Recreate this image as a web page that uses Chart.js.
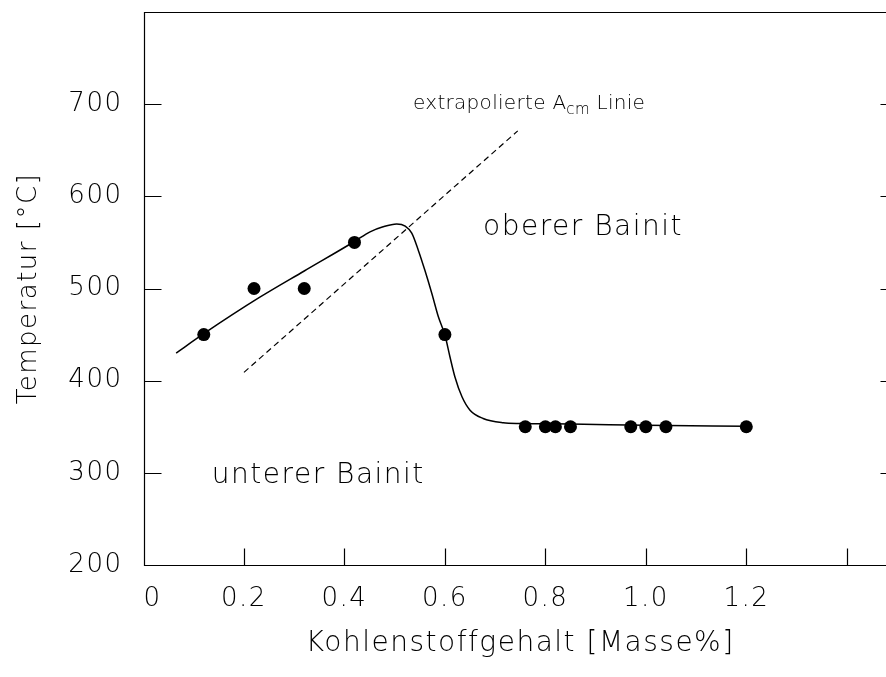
<!DOCTYPE html>
<html>
<head>
<meta charset="utf-8">
<script src="https://cdn.jsdelivr.net/npm/chart.js@4/dist/chart.umd.min.js"></script>
<style>
  html, body { margin: 0; padding: 0; overflow: hidden; background: #fff; width: 886px; height: 677px; }
  canvas { display: block; }
</style>
</head>
<body>
<canvas id="c" width="920" height="677"></canvas>
<script>
// Measured transformation temperatures
const carbonMeasured = [0.12, 0.22, 0.32, 0.42, 0.60, 0.76, 0.80, 0.82, 0.85, 0.97, 1.00, 1.04, 1.20];
const tempMeasured   = [450, 500, 500, 550, 450, 350, 350, 350, 350, 350, 350, 350, 350];

// Boundary upper / lower bainite (drawn curve)
const curveCarbon = [0.065, 0.12, 0.23, 0.32, 0.42, 0.451, 0.477, 0.504, 0.521, 0.534, 0.547, 0.56, 0.574, 0.587, 0.60, 0.61, 0.62, 0.634, 0.65, 0.676, 0.716, 0.75, 0.85, 1.00, 1.20];
const curveTemp   = [430, 451, 490, 519, 551, 561.5, 567, 570, 567.7, 560, 541.6, 520, 494.6, 469.3, 449.5, 426, 404, 382.5, 368, 359, 354.3, 353.5, 353, 351.5, 350.5];

// Extrapolated Acm line
const acmCarbon = [0.2, 0.745];
const acmTemp   = [409, 671];

// Axis ticks and their labels
const xTicks = [0, 0.2, 0.4, 0.6, 0.8, 1.0, 1.2, 1.4];
const xTickLabels = ['\u20070', '0.2', '0.4', '0.6', '0.8', '1.0', '1.2', ''];
const yTicks = [200, 300, 400, 500, 600, 700, 800];
const yTickLabels = ['200', '300', '400', '500', '600', '700', ''];

const FONT = '"DejaVu Sans", sans-serif';
const SPACING = '1.5px';

const toXY = (xs, ys) => xs.map((x, i) => ({ x: x, y: ys[i] }));

const spacingPlugin = {
  id: 'spacing',
  beforeUpdate(chart) { chart.ctx.letterSpacing = SPACING; },
  beforeDraw(chart) { chart.ctx.letterSpacing = SPACING; }
};

const framePlugin = {
  id: 'frame',
  beforeDatasetsDraw(chart) {
    const { ctx, chartArea: a, scales: { x, y } } = chart;
    const L = Math.round(a.left) + 0.5, R = Math.round(a.right) + 0.5;
    const T = Math.round(a.top) + 0.5, B = Math.round(a.bottom) + 0.5;
    const tick = 17;
    ctx.save();
    ctx.strokeStyle = '#000';
    ctx.lineWidth = 1.2;
    ctx.beginPath();
    ctx.moveTo(L, T); ctx.lineTo(R, T); ctx.lineTo(R, B); ctx.lineTo(L, B); ctx.closePath();
    ctx.stroke();
    ctx.beginPath();
    xTicks.forEach(v => {
      if (v <= x.min || v >= x.max) return;
      const px = Math.round(x.getPixelForValue(v)) + 0.5;
      ctx.moveTo(px, B); ctx.lineTo(px, B - tick);
    });
    yTicks.forEach(v => {
      if (v <= y.min || v >= y.max) return;
      const py = Math.round(y.getPixelForValue(v)) + 0.5;
      ctx.moveTo(L, py); ctx.lineTo(L + tick, py);
      ctx.moveTo(R, py); ctx.lineTo(R - tick, py);
    });
    ctx.stroke();
    ctx.restore();
  }
};

const labelPlugin = {
  id: 'regionLabels',
  afterDraw(chart) {
    const { ctx, scales: { x, y } } = chart;
    ctx.save();
    ctx.fillStyle = '#000';
    ctx.textAlign = 'left';
    ctx.textBaseline = 'alphabetic';
    ctx.letterSpacing = SPACING;
    ctx.font = '200 28px ' + FONT;
    ctx.fillText('oberer Bainit', x.getPixelForValue(0.676), y.getPixelForValue(558));
    ctx.fillText('unterer Bainit', x.getPixelForValue(0.136), y.getPixelForValue(288.6));

    // "extrapolierte A_cm Linie" with subscript
    let px = x.getPixelForValue(0.5365);
    const py = y.getPixelForValue(694.6);
    ctx.letterSpacing = '0.3px';
    ctx.font = '200 20px ' + FONT;
    const part1 = 'extrapolierte A';
    ctx.fillText(part1, px, py);
    px += ctx.measureText(part1).width;
    ctx.font = '200 15px ' + FONT;
    ctx.fillText('cm', px, py + 5);
    px += ctx.measureText('cm').width;
    ctx.font = '200 20px ' + FONT;
    ctx.fillText(' Linie', px, py);
    ctx.restore();
  }
};

new Chart(document.getElementById('c'), {
  type: 'scatter',
  data: {
    datasets: [
      {
        label: 'Messwerte',
        data: toXY(carbonMeasured, tempMeasured),
        showLine: false,
        pointRadius: 6.5,
        pointBackgroundColor: '#000',
        pointBorderWidth: 0,
        order: 0
      },
      {
        label: 'Grenze',
        data: toXY(curveCarbon, curveTemp),
        showLine: true,
        borderColor: '#000',
        borderWidth: 1.5,
        cubicInterpolationMode: 'monotone',
        pointRadius: 0,
        order: 1
      },
      {
        label: 'Acm',
        data: toXY(acmCarbon, acmTemp),
        showLine: true,
        borderColor: '#000',
        borderWidth: 1.2,
        borderDash: [6, 4],
        pointRadius: 0,
        order: 2
      }
    ]
  },
  options: {
    responsive: false,
    animation: false,
    devicePixelRatio: 1,
    layout: { padding: { top: 12, right: 23, left: 0, bottom: 0 } },
    plugins: { legend: { display: false }, tooltip: { enabled: false } },
    scales: {
      x: {
        type: 'linear',
        min: 0,
        max: 1.5,
        afterFit: s => { s.height = 112; s.paddingLeft = 0; s.paddingRight = 0; },
        afterBuildTicks: s => { s.ticks = xTicks.map(v => ({ value: v })); },
        grid: { display: false, drawTicks: false },
        border: { display: false },
        ticks: {
          color: '#000',
          font: { family: FONT, size: 26, weight: 200 },
          padding: 19,
          maxRotation: 0,
          autoSkip: false,
          callback: (v, i) => xTickLabels[i]
        },
        title: {
          display: true,
          text: 'Kohlenstoffgehalt [Masse%]',
          color: '#000',
          font: { family: FONT, size: 28, weight: 200 },
          padding: { top: 0, bottom: 16 }
        }
      },
      y: {
        type: 'linear',
        min: 200,
        max: 800,
        afterFit: s => { s.width = 143.5; s.paddingTop = 0; s.paddingBottom = 0; },
        afterBuildTicks: s => { s.ticks = yTicks.map(v => ({ value: v })); },
        grid: { display: false, drawTicks: false },
        border: { display: false },
        ticks: {
          color: '#000',
          font: { family: FONT, size: 26, weight: 200 },
          padding: 21,
          autoSkip: false,
          callback: (v, i) => yTickLabels[i]
        },
        title: {
          display: true,
          text: 'Temperatur [°C]',
          color: '#000',
          font: { family: FONT, size: 26, weight: 200 },
          padding: { top: 14, bottom: 0 }
        }
      }
    }
  },
  plugins: [spacingPlugin, framePlugin, labelPlugin]
});
</script>
</body>
</html>
